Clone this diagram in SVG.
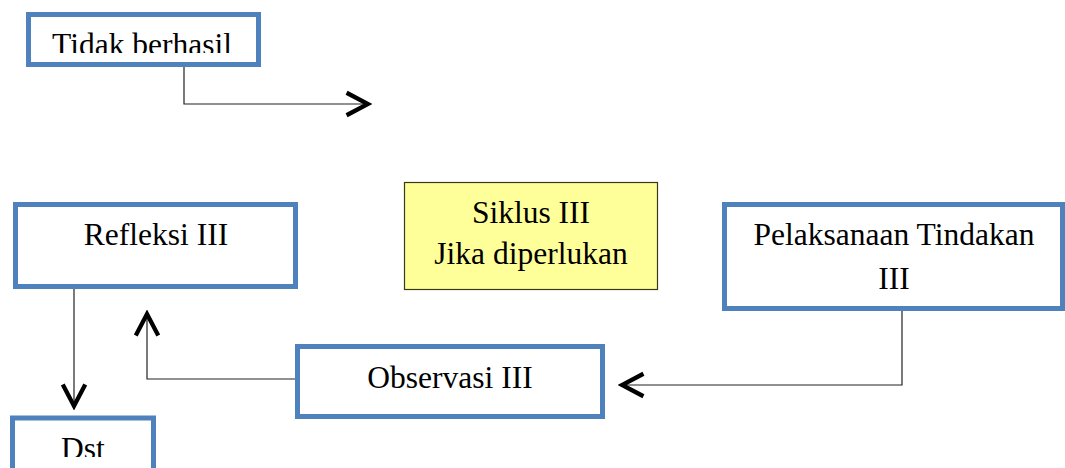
<svg xmlns="http://www.w3.org/2000/svg" width="1065" height="468" viewBox="0 0 1065 468">
<style>
.box{fill:#ffffff;stroke:#4f81bd;stroke-width:5}
.note{fill:#ffff99;stroke:#3a3a1a;stroke-width:1.2}
.t{font-family:"Liberation Serif","Times New Roman",serif;font-size:31.5px;fill:#000;text-anchor:middle}
.ln{fill:none;stroke:#222;stroke-width:1.2}
</style>
<defs>
<marker id="chev" markerUnits="userSpaceOnUse" markerWidth="30" markerHeight="30" viewBox="-24 -14 28 28" refX="0" refY="0" orient="auto">
<path d="M -20 -10.5 L 0 0 L -20 10.5" fill="none" stroke="#000" stroke-width="4"/>
</marker>
<clipPath id="c1"><rect x="0" y="0" width="1065" height="53"/></clipPath>
<clipPath id="c2"><rect x="0" y="0" width="1065" height="457"/></clipPath>
</defs>
<g id="connectors">
<path class="ln" d="M 184 67 V 104 H 368" marker-end="url(#chev)"/>
<path class="ln" d="M 74 289 V 406" marker-end="url(#chev)"/>
<path class="ln" d="M 295 379 H 147 V 314" marker-end="url(#chev)"/>
<path class="ln" d="M 902 311 V 385 H 622" marker-end="url(#chev)"/>
</g>
<g id="tidak-berhasil">
<rect class="box" x="28.5" y="14.5" width="230" height="50"/>
<text class="t" x="142" y="55" clip-path="url(#c1)">Tidak berhasil</text>
</g>
<g id="refleksi">
<rect class="box" x="15.5" y="204.5" width="280" height="82"/>
<text class="t" x="156" y="245">Refleksi III</text>
</g>
<g id="siklus">
<rect class="note" x="404.5" y="182.5" width="253" height="107"/>
<text class="t" x="531" y="223">Siklus III</text>
<text class="t" x="531" y="264">Jika diperlukan</text>
</g>
<g id="pelaksanaan">
<rect class="box" x="724.5" y="204.5" width="338" height="104"/>
<text class="t" x="894" y="245">Pelaksanaan Tindakan</text>
<text class="t" x="894" y="289">III</text>
</g>
<g id="observasi">
<rect class="box" x="297.5" y="346.5" width="305" height="70"/>
<text class="t" x="450" y="388">Observasi III</text>
</g>
<g id="dst">
<rect class="box" x="12.5" y="418" width="141" height="60"/>
<text class="t" x="83" y="459" clip-path="url(#c2)">Dst</text>
</g>
</svg>
